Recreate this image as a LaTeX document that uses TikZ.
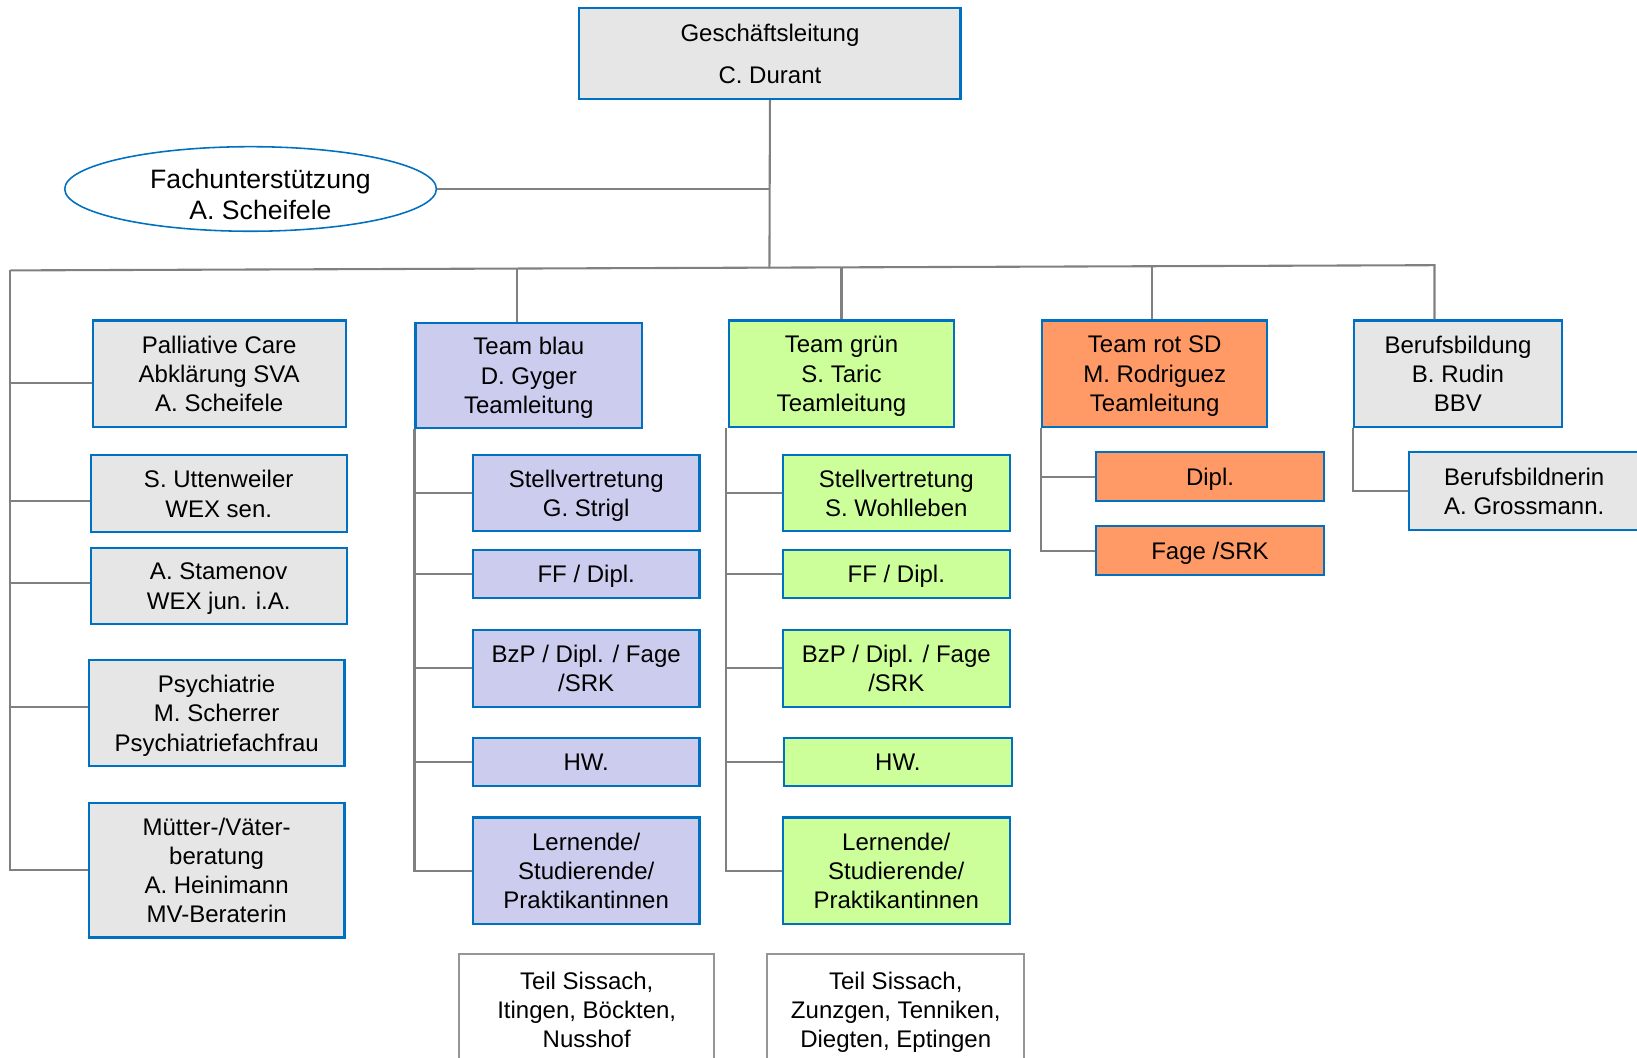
\documentclass[tikz,border=0pt]{standalone}
\usepackage{fontspec}
\setmainfont{Liberation Sans}
\usetikzlibrary{shapes.geometric}
\definecolor{bblue}{RGB}{0,112,192}
\definecolor{cgray}{RGB}{128,128,128}
\definecolor{tgray}{RGB}{150,150,150}
\definecolor{fgray}{RGB}{230,230,230}
\definecolor{flav}{RGB}{204,204,238}
\definecolor{fgreen}{RGB}{204,255,153}
\definecolor{forange}{RGB}{255,153,102}
\begin{document}
\begin{tikzpicture}[x=1pt,y=-1pt,
  conn/.style={draw=cgray, line width=2pt},
  box/.style={draw=bblue, line width=2pt, rectangle, inner sep=0pt, align=center, font=\fontsize{23}{28}\selectfont, text=black, text depth=0pt},
  gbox/.style={box, fill=fgray},
  lbox/.style={box, fill=flav},
  grbox/.style={box, fill=fgreen},
  obox/.style={box, fill=forange},
  wbox/.style={box, draw=tgray, fill=white}]
\useasboundingbox (0,0) rectangle (1568,1013);
\clip (0,0) rectangle (1568,1013);
\fill[white] (0,0) rectangle (1568,1013);

% top
\node[gbox, minimum width=365pt, minimum height=87pt] (gl) at (737.5,51.5) {Geschäftsleitung\\[12pt]C. Durant};
\node[ellipse, draw=bblue, line width=1.5pt, fill=white, inner sep=0pt, minimum width=356pt, minimum height=81pt] (fu) at (240,181) {};
\node[align=center, inner sep=0pt, text depth=0pt, font=\fontsize{25.5}{30}\selectfont] (fut) at (249.5,186) {Fachunterstützung\\A. Scheifele};

% left column
\node[gbox, minimum width=242pt, minimum height=102pt] (pc) at (210,358) {Palliative Care\\Abklärung SVA\\A. Scheifele};
\node[gbox, minimum width=245pt, minimum height=74pt] (ut) at (209.5,473) {S. Uttenweiler\\WEX sen.};
\node[gbox, minimum width=245pt, minimum height=73pt] (sm) at (209.5,561.5) {A. Stamenov\\WEX jun. i.A.};
\node[gbox, minimum width=245pt, minimum height=102pt] (psy) at (207.5,683) {Psychiatrie\\M. Scherrer\\Psychiatriefachfrau};
\node[gbox, minimum width=245pt, minimum height=129pt] (mv) at (207.5,833.5) {Mütter-/Väter-\\beratung\\A. Heinimann\\MV-Beraterin};

% team blau
\node[lbox, minimum width=217pt, minimum height=101pt] (tb) at (506.5,359.5) {Team blau\\D. Gyger\\Teamleitung};
\node[lbox, minimum width=217pt, minimum height=73pt] (b1) at (561.5,472.5) {Stellvertretung\\G. Strigl};
\node[lbox, minimum width=217pt, minimum height=46pt] (b2) at (561.5,550) {FF / Dipl.};
\node[lbox, minimum width=217pt, minimum height=74pt] (b3) at (561.5,640) {BzP / Dipl. / Fage\\/SRK};
\node[lbox, minimum width=217pt, minimum height=46pt] (b4) at (561.5,730) {HW.};
\node[lbox, minimum width=217pt, minimum height=102pt] (b5) at (561.5,834) {Lernende/\\Studierende/\\Praktikantinnen};
\node[wbox, minimum width=244pt, minimum height=106pt] (tsb) at (562,967) {Teil Sissach,\\Itingen, Böckten,\\Nusshof};

% team gruen
\node[grbox, minimum width=216pt, minimum height=102pt] (tg) at (806,358) {Team grün\\S. Taric\\Teamleitung};
\node[grbox, minimum width=217pt, minimum height=73pt] (g1) at (858.5,472.5) {Stellvertretung\\S. Wohlleben};
\node[grbox, minimum width=217pt, minimum height=46pt] (g2) at (858.5,550) {FF / Dipl.};
\node[grbox, minimum width=217pt, minimum height=74pt] (g3) at (858.5,640) {BzP / Dipl. / Fage\\/SRK};
\node[grbox, minimum width=218pt, minimum height=46pt] (g4) at (860,730) {HW.};
\node[grbox, minimum width=217pt, minimum height=102pt] (g5) at (858.5,834) {Lernende/\\Studierende/\\Praktikantinnen};
\node[wbox, minimum width=246pt, minimum height=106pt] (tsg) at (858,967) {Teil Sissach,\\Zunzgen, Tenniken,\\Diegten, Eptingen};

% team rot
\node[obox, minimum width=216pt, minimum height=102pt] (tr) at (1106,358) {Team rot SD\\M. Rodriguez\\Teamleitung};
\node[obox, minimum width=218pt, minimum height=47pt] (r1) at (1159,456.5) {Dipl.};
\node[obox, minimum width=218pt, minimum height=47pt] (r2) at (1159,527.5) {Fage /SRK};

% berufsbildung
\node[gbox, minimum width=199pt, minimum height=102pt] (bb) at (1396.5,358) {Berufsbildung\\B. Rudin\\BBV};
\node[gbox, minimum width=220pt, minimum height=75pt] (bn) at (1460,470.5) {Berufsbildnerin\\A. Grossmann.};

% connectors
\coordinate (bL) at (10,259);
\coordinate (bR) at (1374,254);
\coordinate (bM) at (737,257);
\coordinate (t1) at (495,258);
\coordinate (t2) at (806,256);
\coordinate (t3) at (1103,255);
\draw[conn] (gl.south) -- (bM);
\draw[conn] (fu.east) -- (fu.east -| gl.south);
\draw[conn] (bL) -- (bR) -- (bR |- bb.north);
\draw[conn] (t1) -- (t1 |- tb.north);
\draw[conn] (t2) -- (t2 |- tg.north);
\draw[conn] (t3) -- (t3 |- tr.north);

% left branches
\draw[conn] (bL) -- (bL |- mv.west) -- (mv.west);
\draw[conn] ([yshift=-9pt]bL |- pc.west) -- ([yshift=-9pt]pc.west);
\draw[conn] ([yshift=-7pt]bL |- ut.west) -- ([yshift=-7pt]ut.west);
\draw[conn] ([yshift=3pt]bL |- sm.west) -- ([yshift=3pt]sm.west);
\draw[conn] ([yshift=6pt]bL |- psy.west) -- ([yshift=6pt]psy.west);

% blau branches
\draw[conn] (tb.south west) -- (tb.south west |- b5.west) -- (b5.west);
\foreach \n in {b1,b2,b3,b4} \draw[conn] (tb.south west |- \n.west) -- (\n.west);

% gruen branches
\draw[conn] ([xshift=-2pt]tg.south west) -- ([xshift=-2pt]tg.south west |- g5.west) -- (g5.west);
\foreach \n in {g1,g2,g3,g4} \draw[conn] ([xshift=-2pt]tg.south west |- \n.west) -- (\n.west);

% rot branches
\draw[conn] (tr.south west) -- (tr.south west |- r2.west) -- (r2.west);
\draw[conn] (tr.south west |- r1.west) -- (r1.west);

% berufsbildung branch
\draw[conn] (bb.south west) -- (bb.south west |- bn.west) -- (bn.west);
\end{tikzpicture}
\end{document}
